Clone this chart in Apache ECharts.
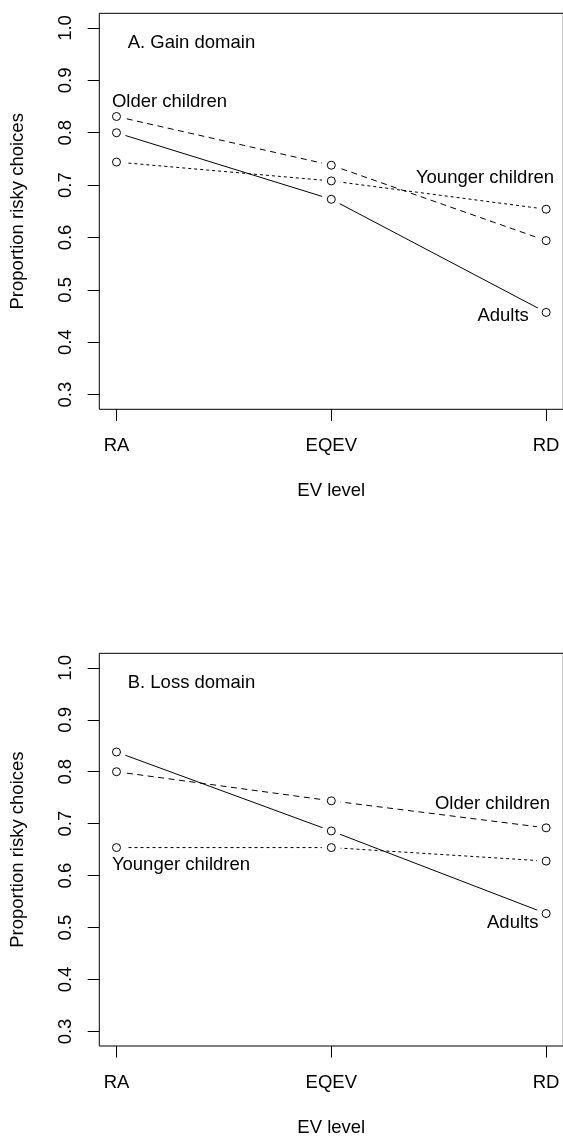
<!DOCTYPE html>
<html>
<head>
<meta charset="utf-8">
<script src="https://cdn.jsdelivr.net/npm/echarts@6/dist/echarts.min.js"></script>
<style>
html,body{margin:0;padding:0;background:#fff;width:563px;height:1138px;overflow:hidden;}
#chart{width:600px;height:1138px;}
</style>
</head>
<body>
<div id="chart"></div>
<script>
// ---- data ----
const categories = ['RA', 'EQEV', 'RD'];
const yTicks = [0.3, 0.4, 0.5, 0.6, 0.7, 0.8, 0.9, 1.0];
const panelTitles = ['A. Gain domain', 'B. Loss domain'];
const groupNames = ['Adults', 'Older children', 'Younger children'];

const gainAdults = [0.800, 0.673, 0.457];
const gainOlder = [0.831, 0.738, 0.594];
const gainYounger = [0.744, 0.708, 0.654];

const lossAdults = [0.838, 0.686, 0.527];
const lossOlder = [0.800, 0.744, 0.692];
const lossYounger = [0.654, 0.654, 0.628];

// ---- styling ----
const FONT = "'Liberation Sans', Arial, Helvetica, sans-serif";
const FS = 18.5;
const xPos = categories.map((c, i) => i + 1);

function makeAxes(gi) {
  const x = {
    type: 'value', gridIndex: gi, min: 0.92, max: 3.08,
    axisLine: { show: false },
    splitLine: { show: false },
    axisTick: { show: true, inside: false, length: 11.6, customValues: xPos, lineStyle: { color: '#000', width: 1 } },
    axisLabel: { show: true, customValues: xPos, margin: 27, color: '#000', fontSize: FS, fontFamily: FONT,
      formatter: v => categories[Math.round(v) - 1] || '' },
    name: 'EV level', nameLocation: 'middle', nameGap: 72,
    nameTextStyle: { color: '#000', fontSize: FS, fontFamily: FONT }
  };
  const y = {
    type: 'value', gridIndex: gi, min: 0.272, max: 1.028,
    axisLine: { show: false },
    splitLine: { show: false },
    axisTick: { show: true, inside: false, length: 11.6, customValues: yTicks, lineStyle: { color: '#000', width: 1 } },
    axisLabel: { show: true, customValues: yTicks, rotate: 90, margin: 24, color: '#000', fontSize: FS, fontFamily: FONT,
      formatter: v => v.toFixed(1) },
    name: 'Proportion risky choices', nameLocation: 'middle', nameGap: 72,
    nameTextStyle: { color: '#000', fontSize: FS, fontFamily: FONT }
  };
  return { x, y };
}

const common = { emphasis: { disabled: true }, silent: true, animation: false };

// line + gap disc + hollow circle (like R type="b")
function mk(name, values, gi, dash, lbl) {
  const pts = values.map((v, i) => [xPos[i], v]);
  const line = Object.assign({
    type: 'line', name: name, xAxisIndex: gi, yAxisIndex: gi, z: 2,
    data: pts, symbol: 'none',
    lineStyle: { color: '#000', width: 1, type: dash }
  }, common);
  const gap = Object.assign({
    type: 'scatter', name: name + ' gap', xAxisIndex: gi, yAxisIndex: gi, z: 3,
    data: pts, symbol: 'circle', symbolSize: 19,
    itemStyle: { color: '#fff', opacity: 1 }
  }, common);
  const marks = Object.assign({
    type: 'scatter', name: name, xAxisIndex: gi, yAxisIndex: gi, z: 4,
    data: pts.map((p, i) => {
      const item = { value: p };
      if (lbl && lbl.idx === i) {
        item.label = {
          show: true, formatter: name, position: 'inside',
          align: lbl.align, verticalAlign: 'middle', offset: [lbl.dx, lbl.dy],
          color: '#000', fontSize: FS, fontFamily: FONT
        };
      }
      return item;
    }),
    symbol: 'circle', symbolSize: 8,
    itemStyle: { color: '#fff', borderColor: '#000', borderWidth: 1, opacity: 1 },
    label: { show: false }
  }, common);
  return [line, gap, marks];
}

const a0 = makeAxes(0), a1 = makeAxes(1);
const DASH_OLD = [6, 4.5];
const DASH_YOUNG = [3, 3];

const option = {
  backgroundColor: '#fff',
  animation: false,
  title: [
    { text: panelTitles[0], left: 127.7, top: 33, padding: 0, textStyle: { color: '#000', fontSize: FS, fontWeight: 'normal', fontFamily: FONT } },
    { text: panelTitles[1], left: 127.7, top: 673, padding: 0, textStyle: { color: '#000', fontSize: FS, fontWeight: 'normal', fontFamily: FONT } }
  ],
  grid: [
    { left: 99.3, top: 13.3, width: 464, height: 396, show: true, borderColor: '#000', borderWidth: 1, backgroundColor: 'transparent', containLabel: false },
    { left: 99.3, top: 653.3, width: 464, height: 396, show: true, borderColor: '#000', borderWidth: 1, backgroundColor: 'transparent', containLabel: false }
  ],
  xAxis: [a0.x, a1.x],
  yAxis: [a0.y, a1.y],
  series: [].concat(
    mk(groupNames[0], gainAdults, 0, 'solid', { idx: 2, align: 'right', dx: -17.3, dy: 4 }),
    mk(groupNames[1], gainOlder, 0, DASH_OLD, { idx: 0, align: 'left', dx: -4.6, dy: -14.3 }),
    mk(groupNames[2], gainYounger, 0, DASH_YOUNG, { idx: 2, align: 'right', dx: 8, dy: -31 }),
    mk(groupNames[0], lossAdults, 1, 'solid', { idx: 2, align: 'right', dx: -7.7, dy: 9 }),
    mk(groupNames[1], lossOlder, 1, DASH_OLD, { idx: 2, align: 'right', dx: 4, dy: -24.3 }),
    mk(groupNames[2], lossYounger, 1, DASH_YOUNG, { idx: 0, align: 'left', dx: -4.6, dy: 17 })
  )
};

const chart = echarts.init(document.getElementById('chart'), null, { renderer: 'canvas' });
chart.setOption(option);
</script>
</body>
</html>
